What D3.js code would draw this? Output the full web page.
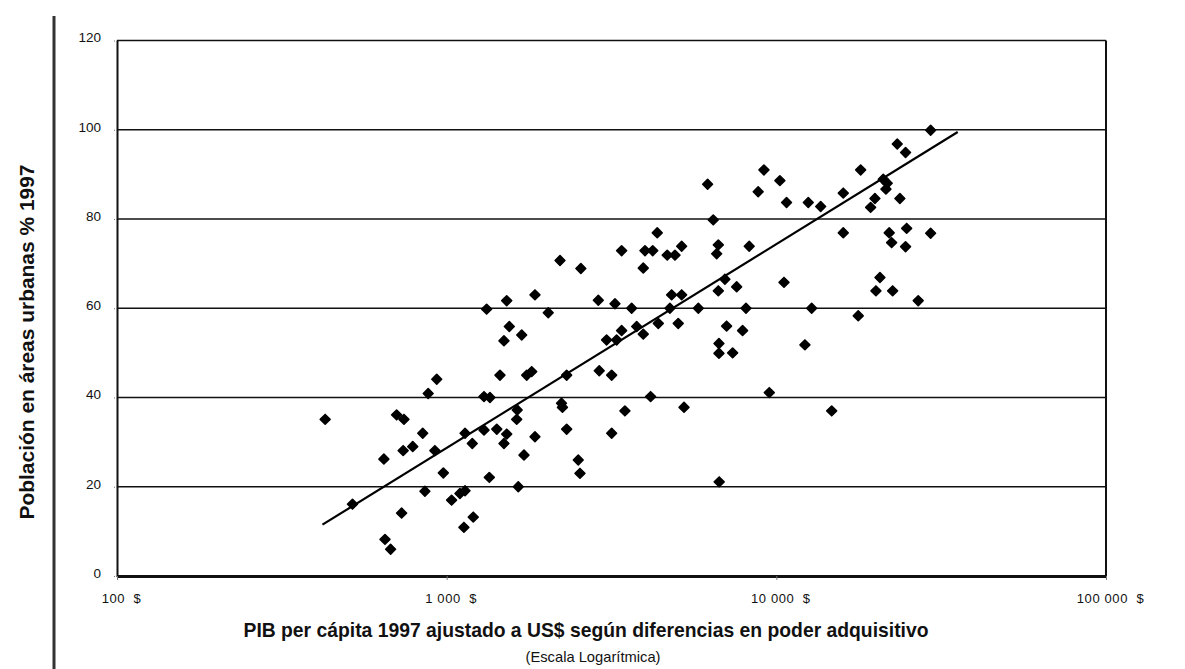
<!DOCTYPE html>
<html>
<head>
<meta charset="utf-8">
<script src="https://cdn.jsdelivr.net/npm/d3@7/dist/d3.min.js"></script>
<style>
  body { margin: 0; background: #fff; }
  text { font-family: "Liberation Sans", Arial, sans-serif; fill: #111; }
</style>
</head>
<body>
<div id="chart"></div>
<script>
// GDP per capita 1997 (PPP, US$) and urban population % 1997, one entry per country
const gdp = [428, 518, 645, 650, 676, 705, 742, 730, 738, 789, 846, 859, 879, 933, 921, 977,
  1035, 1097, 1137, 1128, 1204, 1137, 1196, 1298, 1353, 1322, 1298, 1347, 1419, 1521, 1492, 1451,
  1492, 1549, 1521, 1689, 1853, 2033, 1649, 1749, 1811, 1637, 1631, 1716, 1853, 2207, 2553, 2230,
  2245, 2312, 2312, 2507, 2537, 2903, 3166, 2884, 3240, 3640, 3394, 3996, 4217, 4353, 4667, 4926,
  5162, 3948, 3056, 3278, 3394, 3770, 3948, 4385, 5040, 4813, 5162, 4755, 4156, 3473, 3166, 5248,
  5799, 6188, 6436, 6668, 6592, 6983, 7580, 6668, 8275, 8090, 7066, 7900, 6698, 6698, 7370, 6710,
  9170, 10250, 8810, 10740, 12500, 13630, 15960, 15960, 10550, 12210, 12800, 9520, 14720, 17720,
  29380, 23270, 24660, 18020, 21100, 21700, 21500, 19910, 19320, 23700, 22000, 22370, 24850, 24660,
  29380, 20620, 20050, 22530, 26940];
const urban = [35.1, 16.1, 26.2, 8.2, 6.0, 36.1, 35.1, 14.1, 28.1, 29.0, 32.0, 19.0, 40.9, 44.1, 28.1, 23.1,
  17.0, 18.5, 19.1, 10.9, 13.2, 32.0, 29.7, 40.2, 40.0, 59.8, 32.7, 22.1, 32.9, 31.8, 29.7, 45.0,
  52.7, 55.9, 61.7, 54.0, 63.0, 59.0, 20.0, 45.0, 45.8, 37.2, 35.1, 27.1, 31.2, 70.7, 68.9, 38.7,
  37.8, 45.0, 32.9, 26.0, 23.0, 46.0, 45.0, 61.8, 61.0, 60.0, 72.9, 72.9, 72.9, 76.9, 71.9, 71.9,
  73.9, 69.0, 52.9, 52.9, 55.0, 55.9, 54.2, 56.6, 56.6, 63.0, 63.0, 60.0, 40.2, 37.0, 32.0, 37.8,
  60.0, 87.8, 79.8, 74.2, 72.2, 66.5, 64.8, 63.9, 73.9, 60.0, 56.0, 55.0, 52.1, 49.9, 50.0, 21.1,
  91.0, 88.6, 86.1, 83.7, 83.7, 82.8, 85.8, 76.9, 65.8, 51.8, 60.0, 41.1, 37.0, 58.3,
  99.9, 96.8, 94.9, 91.0, 88.9, 88.0, 86.7, 84.6, 82.6, 84.6, 76.9, 74.7, 77.9, 73.8,
  76.8, 66.9, 63.9, 63.9, 61.7];

// log-linear trend line end points
const trendGdp = [420, 35500];
const trendUrban = [11.5, 99.5];

const yTicks = [0, 20, 40, 60, 80, 100, 120];
const xTicks = [100, 1000, 10000, 100000];
const xTickLabels = ["100  $", "1 000  $", "10 000  $", "100 000  $"];

const yTitle = "Población en áreas urbanas % 1997";
const xTitle = "PIB per cápita 1997 ajustado a US$ según diferencias en poder adquisitivo";
const xSubtitle = "(Escala Logarítmica)";

const width = 1185, height = 669;
const plot = { left: 117, right: 1106, top: 40.5, bottom: 576 };

const svg = d3.select("#chart").append("svg")
  .attr("width", width)
  .attr("height", height);

svg.append("rect").attr("width", width).attr("height", height).attr("fill", "#fff");

const x = d3.scaleLog().domain([100, 100000]).range([plot.left, plot.right]);
const y = d3.scaleLinear().domain([0, 120]).range([plot.bottom, plot.top]);

// page margin rule on the left
svg.append("line")
  .attr("x1", 54).attr("x2", 54).attr("y1", 16).attr("y2", height)
  .attr("stroke", "#333").attr("stroke-width", 3);

// horizontal gridlines (incl. top border)
svg.append("g").selectAll("line")
  .data(yTicks.filter(d => d > 0))
  .enter().append("line")
    .attr("x1", plot.left).attr("x2", plot.right)
    .attr("y1", d => y(d)).attr("y2", d => y(d))
    .attr("stroke", "#111").attr("stroke-width", 1.7);

// right border
svg.append("line")
  .attr("x1", plot.right).attr("x2", plot.right)
  .attr("y1", plot.top).attr("y2", plot.bottom)
  .attr("stroke", "#111").attr("stroke-width", 2);

// y axis
const yAxis = svg.append("g")
  .attr("transform", `translate(${plot.left},0)`)
  .call(d3.axisLeft(y).tickValues(yTicks).tickSize(4).tickSizeOuter(0).tickPadding(12));
yAxis.select(".domain").attr("stroke", "#111").attr("stroke-width", 2);
yAxis.selectAll(".tick line").attr("stroke", "#777").attr("stroke-dasharray", "1,1");
yAxis.selectAll("text")
  .attr("font-family", "Liberation Sans, Arial, sans-serif")
  .attr("font-size", 13.5).attr("dy", "0.1em").attr("fill", "#111");

// x axis
const xAxis = svg.append("g")
  .attr("transform", `translate(0,${plot.bottom})`)
  .call(d3.axisBottom(x).tickValues(xTicks).tickFormat((d, i) => xTickLabels[i])
    .tickSize(4).tickSizeOuter(0).tickPadding(14));
xAxis.select(".domain").attr("stroke", "#111").attr("stroke-width", 3);
xAxis.selectAll(".tick line").attr("stroke", "#777");
xAxis.selectAll("text")
  .attr("font-family", "Liberation Sans, Arial, sans-serif")
  .attr("font-size", 13).attr("letter-spacing", 0.6)
  .attr("fill", "#111")
  .attr("dx", 4)
  .style("white-space", "pre");

// trend line
svg.append("line")
  .attr("x1", x(trendGdp[0])).attr("y1", y(trendUrban[0]))
  .attr("x2", x(trendGdp[1])).attr("y2", y(trendUrban[1]))
  .attr("stroke", "#000").attr("stroke-width", 2.2);

// diamond markers
const diamond = d3.symbol().type(d3.symbolSquare).size(48);
svg.append("g").selectAll("path")
  .data(gdp.map((g, i) => ({ g: g, u: urban[i] })))
  .enter().append("path")
    .attr("d", diamond)
    .attr("transform", d => `translate(${x(d.g)},${y(d.u)}) rotate(45)`)
    .attr("fill", "#000")
    .attr("stroke", "#000")
    .attr("stroke-width", 1.6)
    .attr("stroke-linejoin", "round");

// axis titles
svg.append("text")
  .attr("transform", "translate(34,342) rotate(-90)")
  .attr("text-anchor", "middle")
  .attr("font-family", "Liberation Sans Narrow, Arial Narrow, Liberation Sans, sans-serif")
  .attr("font-weight", "bold")
  .attr("font-size", 20)
  .attr("textLength", 355)
  .attr("lengthAdjust", "spacingAndGlyphs")
  .text(yTitle);

svg.append("text")
  .attr("x", 586).attr("y", 637)
  .attr("text-anchor", "middle")
  .attr("font-family", "Liberation Sans Narrow, Arial Narrow, Liberation Sans, sans-serif")
  .attr("font-weight", "bold")
  .attr("font-size", 21)
  .attr("textLength", 685)
  .attr("lengthAdjust", "spacingAndGlyphs")
  .text(xTitle);

svg.append("text")
  .attr("x", 593).attr("y", 662)
  .attr("text-anchor", "middle")
  .attr("font-family", "Liberation Sans Narrow, Arial Narrow, Liberation Sans, sans-serif")
  .attr("font-size", 15)
  .attr("textLength", 135)
  .attr("lengthAdjust", "spacingAndGlyphs")
  .text(xSubtitle);
</script>
</body>
</html>
